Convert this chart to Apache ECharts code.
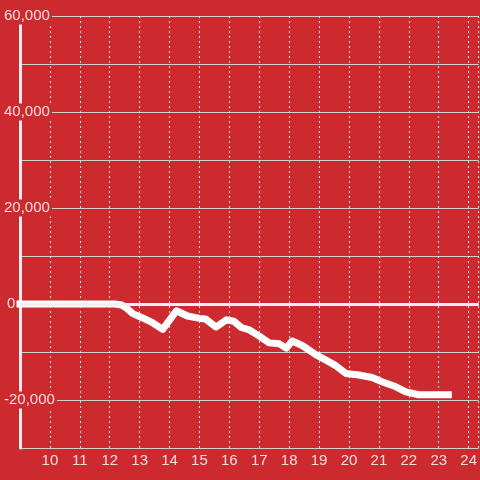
<!DOCTYPE html>
<html>
<head>
<meta charset="utf-8">
<script src="https://cdn.jsdelivr.net/npm/echarts@6/dist/echarts.min.js"></script>
<style>
html,body{margin:0;padding:0;background:#cc2a2f;}
#chart{width:480px;height:480px;}
</style>
</head>
<body>
<div id="chart"></div>
<script>
var hours = [9.0, 12.17, 12.4, 12.57, 12.77, 13.1, 13.43, 13.77, 14.23, 14.6, 15.0, 15.2, 15.55, 15.9, 16.15, 16.4, 16.67, 17.0, 17.33, 17.67, 17.9, 18.1, 18.45, 18.9, 19.23, 19.57, 19.9, 20.33, 20.77, 21.1, 21.55, 21.9, 22.33, 23.32];
var values = [0, 0, -200, -900, -2000, -2900, -3900, -5300, -1400, -2500, -3000, -3100, -4800, -3300, -3600, -4900, -5400, -6700, -8100, -8300, -9200, -7700, -8700, -10600, -11700, -12900, -14500, -14800, -15300, -16200, -17200, -18300, -18900, -18900];
var xTickLabels = [10, 11, 12, 13, 14, 15, 16, 17, 18, 19, 20, 21, 22, 23, 24];
var yTickLabels = [-20000, 0, 20000, 40000, 60000];

var BG = '#cc2a2f';
function fmt(v) {
  var s = String(Math.abs(v)).replace(/\B(?=(\d{3})+(?!\d))/g, ',');
  return (v < 0 ? '-' : '') + s;
}
var chart = echarts.init(document.getElementById('chart'), null, {renderer: 'canvas'});
var data = hours.map(function (h, i) { return [h, values[i]]; });
chart.setOption({
  backgroundColor: BG,
  animation: false,
  grid: {left: 20, right: 0, top: 16, bottom: 32, containLabel: false},
  xAxis: {
    type: 'value', min: 9, max: 24.3333, interval: 1,
    axisLine: {show: true, lineStyle: {color: '#dddddd', width: 1}},
    axisTick: {show: false},
    axisLabel: {
      color: 'rgba(255,255,255,0.85)', fontSize: 15, fontFamily: 'Liberation Sans, Arial, sans-serif',
      margin: 5, showMaxLabel: false,
      formatter: function (v) { return xTickLabels.indexOf(Math.round(v * 1000) / 1000) >= 0 ? String(v) : ''; }
    },
    splitLine: {show: true, lineStyle: {color: '#e8e8e8', width: 1, type: [2, 3]}}
  },
  yAxis: {
    type: 'value', min: -30000, max: 60000, interval: 10000,
    axisLine: {show: true, lineStyle: {color: '#f0f0f0', width: 3}},
    axisTick: {show: false},
    axisLabel: {
      color: 'rgba(255,255,255,0.85)', fontSize: 15, fontFamily: 'Liberation Sans, Arial, sans-serif',
      align: 'left', margin: 16, backgroundColor: BG, padding: [1, 2, 1, 0],
      formatter: function (v) {
        if (yTickLabels.indexOf(v) < 0) return '';
        return v === 0 ? '{z|0}' : fmt(v);
      },
      rich: {z: {color: 'rgba(255,255,255,0.85)', fontSize: 15, fontFamily: 'Liberation Sans, Arial, sans-serif', padding: [0, 0, 0, 3]}}
    },
    splitLine: {show: true, lineStyle: {color: '#d0d0d0', width: 1}}
  },
  series: [{
    type: 'line', data: data, symbol: 'none', smooth: false,
    lineStyle: {color: '#ffffff', width: 7, cap: 'square', join: 'round'},
    markLine: {
      silent: true, symbol: 'none', label: {show: false},
      lineStyle: {color: '#f0f0f0', width: 3, type: 'solid'},
      data: [{yAxis: 0}]
    },
    z: 3
  }]
});
</script>
</body>
</html>
